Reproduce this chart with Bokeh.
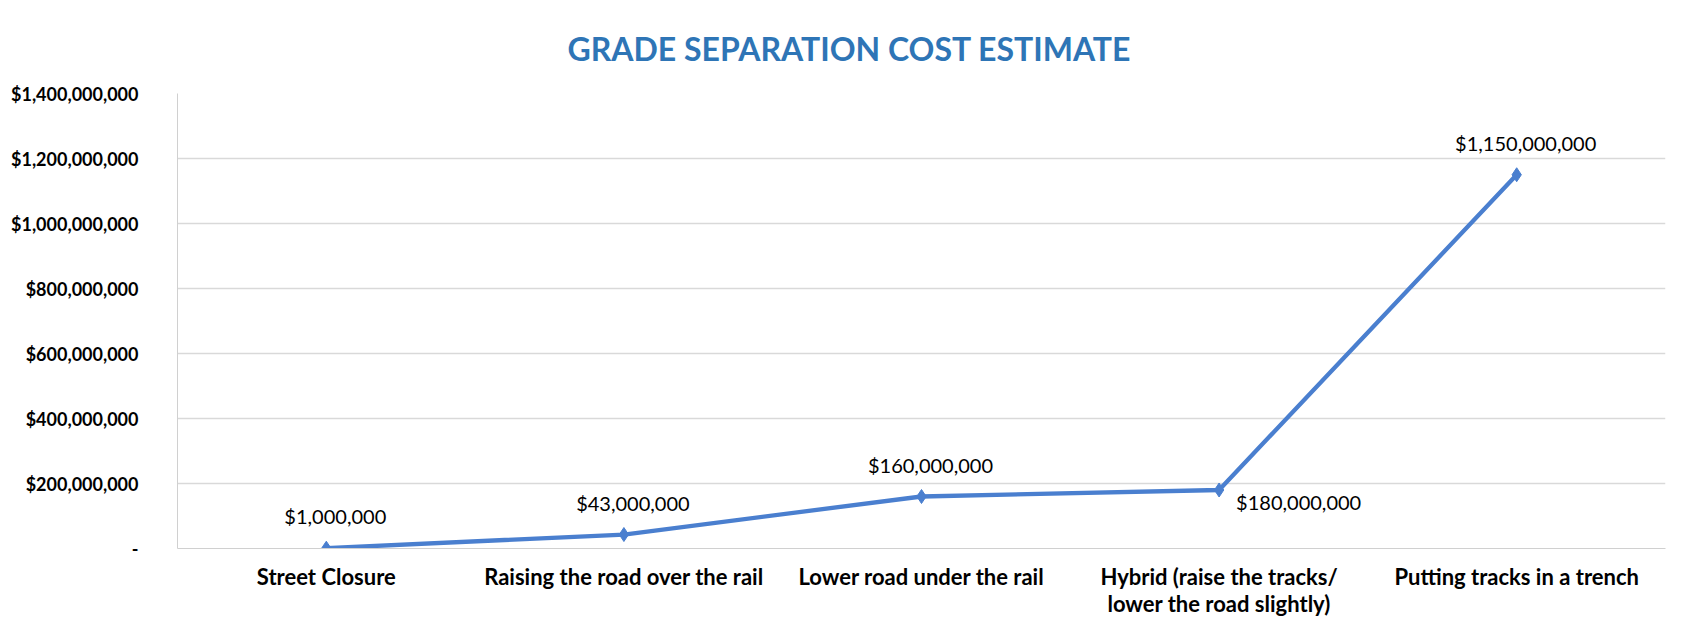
from bokeh.plotting import figure
from bokeh.models import ColumnDataSource, FactorRange, Range1d, FixedTicker
from bokeh.core.properties import value
from bokeh.embed import file_html
from bokeh.resources import INLINE

categories = [
    "Street Closure",
    "Raising the road over the rail",
    "Lower road under the rail",
    "Hybrid (raise the tracks/\nlower the road slightly)",
    "Putting tracks in a trench",
]
costs = [1_000_000, 43_000_000, 160_000_000, 180_000_000, 1_150_000_000]
y_ticks = [0, 200_000_000, 400_000_000, 600_000_000, 800_000_000,
           1_000_000_000, 1_200_000_000, 1_400_000_000]

FONT = "Lato"
BLUE = "#4A7FCF"

labels = ["$%s" % format(c, ",") for c in costs]
source = ColumnDataSource(dict(x=categories, y=costs, label=labels))

p = figure(
    x_range=FactorRange(*categories, range_padding=0),
    y_range=Range1d(0, 1_400_000_000),
    width=1675, height=619,
    output_backend="svg", toolbar_location=None,
    min_border_left=177, min_border_right=10,
    min_border_top=93, min_border_bottom=66,
)
p.title.text = "GRADE SEPARATION COST ESTIMATE"
p.title.align = "left"
p.title.offset = 390
p.title.text_font = FONT
p.title.text_font_style = "bold"
p.title.text_font_size = "32px"
p.title.text_color = "#2E75B6"
p.title.standoff = 51

p.outline_line_color = None
p.xgrid.grid_line_color = None
p.ygrid.grid_line_color = "#D9D9D9"
p.ygrid.grid_line_width = 1.3

p.yaxis.ticker = FixedTicker(ticks=y_ticks)
p.yaxis.major_label_overrides = {
    t: ("-" if t == 0 else "$" + format(t, ",")) for t in y_ticks
}
p.yaxis.axis_line_color = "#D0D0D0"
p.yaxis.major_tick_line_color = None
p.yaxis.minor_tick_line_color = None
p.yaxis.major_label_standoff = 33
p.yaxis.major_label_text_font = FONT
p.yaxis.major_label_text_font_style = "bold"
p.yaxis.major_label_text_font_size = "18px"
p.yaxis.major_label_text_color = "#000000"

p.xaxis.axis_line_color = "#D0D0D0"
p.xaxis.major_tick_line_color = None
p.xaxis.minor_tick_line_color = None
p.xaxis.major_label_standoff = 8
p.xaxis.major_label_text_font = FONT
p.xaxis.major_label_text_font_style = "bold"
p.xaxis.major_label_text_font_size = "22px"
p.xaxis.major_label_text_line_height = 1.0
p.xaxis.major_label_text_color = "#000000"

p.line("x", "y", source=source, line_color=BLUE, line_width=4.3)
p.scatter("x", "y", source=source, marker="diamond", size=14,
          fill_color=BLUE, line_color=BLUE)

above = ColumnDataSource(dict(
    x=[categories[i] for i in (0, 1, 2, 4)],
    y=[costs[i] for i in (0, 1, 2, 4)],
    label=[labels[i] for i in (0, 1, 2, 4)],
))
p.text("x", "y", text="label", source=above, x_offset=9, y_offset=-32,
       text_align="center", text_baseline="middle",
       text_font=value(FONT), text_font_size="20px", text_color="#000000")
right = ColumnDataSource(dict(x=[categories[3]], y=[costs[3]], label=[labels[3]]))
p.text("x", "y", text="label", source=right, x_offset=17, y_offset=12,
       text_align="left", text_baseline="middle",
       text_font=value(FONT), text_font_size="20px", text_color="#000000")

open("out.html", "w").write(file_html(p, INLINE))
